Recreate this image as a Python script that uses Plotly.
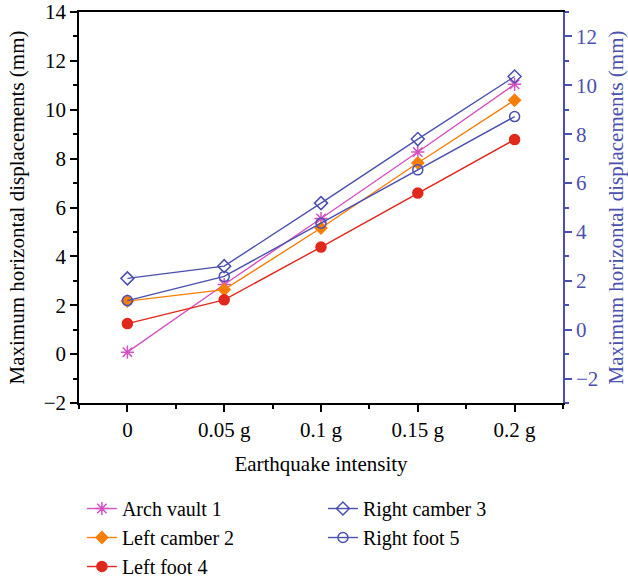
import plotly.graph_objects as go

categories = ["0", "0.05 g", "0.1 g", "0.15 g", "0.2 g"]

# Left-axis series (mm)
arch_vault_1 = [0.08, 2.85, 5.55, 8.27, 11.04]
left_camber_2 = [2.17, 2.64, 5.16, 7.82, 10.39]
left_foot_4 = [1.25, 2.22, 4.38, 6.59, 8.78]
# Right-axis series (mm)
right_camber_3 = [2.10, 2.60, 5.18, 7.80, 10.36]
right_foot_5 = [1.19, 2.18, 4.36, 6.54, 8.72]

FONT = "Liberation Serif"
BLUE = "#4B50AE"
x = list(range(len(categories)))

fig = go.Figure()

def add(name, y, color, symbol, size, axis, legend, group, lw=1.4):
    fig.add_trace(go.Scatter(
        x=x, y=y, name=name, mode="lines+markers",
        line=dict(color=color, width=lw),
        marker=dict(symbol=symbol, size=size, color=color,
                    line=dict(color=color, width=1.5)),
        yaxis=axis, legend=legend, legendgroup=group,
    ))

add("Arch vault 1", arch_vault_1, "#D452C0", "asterisk-open", 11, "y", "legend", "a")
add("Left camber 2", left_camber_2, "#F57F0A", "diamond", 9, "y", "legend", "b")
add("Left foot 4", left_foot_4, "#E0281C", "circle", 10, "y", "legend", "c")
add("Right camber 3", right_camber_3, BLUE, "diamond-open", 10, "y2", "legend2", "d")
add("Right foot 5", right_foot_5, BLUE, "circle-open", 10, "y2", "legend2", "e")

TS = 21
LS = 20
fig.update_layout(
    width=628, height=581,
    margin=dict(l=79, r=65, t=12, b=178, pad=0, autoexpand=False),
    paper_bgcolor="white", plot_bgcolor="white",
    font=dict(family=FONT, size=TS, color="black"),
    xaxis=dict(
        range=[-0.5, 4.5], tickmode="array", tickvals=x, ticktext=categories,
        showline=True, linecolor="black", linewidth=1.5, mirror=True,
        ticks="outside", ticklen=7, tickwidth=1.5, tickcolor="black",
        minor=dict(tickmode="linear", tick0=-0.5, dtick=1, ticks="outside",
                   ticklen=4, tickwidth=1.5, tickcolor="black"),
        showgrid=False, zeroline=False, automargin=False,
        title=dict(text="Earthquake intensity", font=dict(size=TS), standoff=15),
    ),
    yaxis=dict(
        range=[-2, 14], tick0=0, dtick=2,
        showline=True, linecolor="black", linewidth=1.5,
        ticks="outside", ticklen=7, tickwidth=1.5, tickcolor="black",
        minor=dict(tick0=0, dtick=1, ticks="outside", ticklen=4,
                   tickwidth=1.5, tickcolor="black"),
        showgrid=False, zeroline=False, automargin=False,
        title=dict(text="Maximum horizontal displacements (mm)",
                   font=dict(size=21), standoff=13),
    ),
    yaxis2=dict(
        range=[-3, 13], tick0=0, dtick=2, overlaying="y", side="right",
        showline=True, linecolor=BLUE, linewidth=1.5,
        ticks="outside", ticklen=7, tickwidth=1.5, tickcolor=BLUE,
        tickfont=dict(color=BLUE),
        minor=dict(tick0=0, dtick=1, ticks="outside", ticklen=4,
                   tickwidth=1.5, tickcolor=BLUE),
        showgrid=False, zeroline=False, automargin=False,
        title=dict(text="Maximum horizontal displacements (mm)",
                   font=dict(size=21, color=BLUE), standoff=11),
    ),
    legend=dict(x=0.006, y=-0.22, xanchor="left", yanchor="top",
                bgcolor="rgba(0,0,0,0)", font=dict(size=LS),
                tracegroupgap=0, itemwidth=30),
    legend2=dict(x=0.504, y=-0.22, xanchor="left", yanchor="top",
                 bgcolor="rgba(0,0,0,0)", font=dict(size=LS),
                 tracegroupgap=0, itemwidth=30),
    showlegend=True,
)

fig.write_html("out.html")
